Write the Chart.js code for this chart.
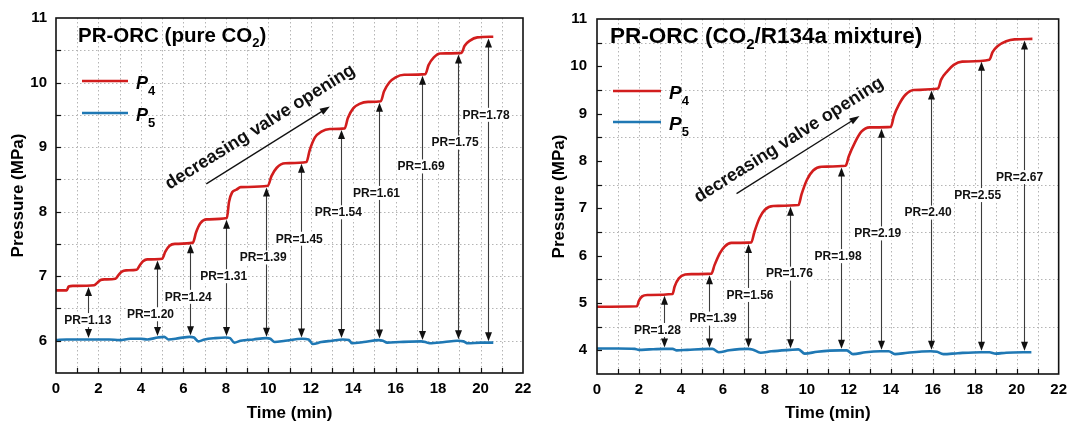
<!DOCTYPE html>
<html><head><meta charset="utf-8">
<script src="https://cdn.jsdelivr.net/npm/chart.js@4.4.1/dist/chart.umd.min.js"></script>
<style>
html,body{margin:0;padding:0;background:#fff}
#wrap{position:relative;width:1074px;height:429px}
#c1{position:absolute;left:0;top:0}
#c2{position:absolute;left:540px;top:0}
</style></head><body>
<div id="wrap"><canvas id="c1" width="540" height="429"></canvas><canvas id="c2" width="534" height="429"></canvas></div>
<script>
// ---- data (time in min, pressure in MPa) ----
const pureP4 = [[0,6.78],[0.5,6.78],[0.6,6.84],[0.8,6.85],[1.8,6.86],[1.95,6.9],[2.1,6.94],[2.3,6.95],[2.8,6.96],
  [2.95,7.02],[3.1,7.07],[3.3,7.09],[3.8,7.1],[3.95,7.17],[4.1,7.23],[4.3,7.26],[5.0,7.27],
  [5.15,7.38],[5.35,7.47],[5.6,7.5],[6.45,7.52],[6.6,7.68],[6.8,7.82],[7.1,7.88],[8.05,7.9],
  [8.15,8.15],[8.3,8.3],[8.5,8.34],[8.7,8.38],[9.98,8.4],[10.15,8.55],[10.4,8.68],[10.8,8.75],[11.8,8.77],
  [11.95,8.95],[12.2,9.15],[12.5,9.24],[12.9,9.28],[13.6,9.29],[13.75,9.45],[14.0,9.6],[14.3,9.67],[14.7,9.7],[15.3,9.71],
  [15.45,9.86],[15.7,10.0],[16.0,10.08],[16.4,10.12],[17.4,10.13],[17.55,10.27],[17.8,10.39],[18.1,10.45],[19.1,10.46],
  [19.25,10.57],[19.5,10.65],[19.85,10.7],[20.6,10.71]];
const pureP5 = [[0,6.01],[0.5,6.02],[1.5,6.02],[2.5,6.02],[3.0,6.01],[3.5,6.03],[4.0,6.03],[4.3,6.02],[4.8,6.05],[5.1,6.06],
  [5.3,6.02],[5.8,6.04],[6.3,6.06],[6.5,6.05],[6.7,5.99],[7.0,6.02],[7.5,6.04],[8.0,6.05],[8.2,6.04],[8.4,5.97],[8.7,6.0],
  [9.3,6.02],[9.9,6.04],[10.1,6.03],[10.3,5.98],[10.8,6.0],[11.6,6.03],[11.9,6.02],[12.1,5.95],[12.5,5.98],[13.0,6.0],
  [13.5,6.02],[13.8,6.01],[13.95,5.96],[14.5,5.98],[15.2,6.01],[15.4,6.0],[15.6,5.97],[16.2,5.98],[17.2,5.99],[17.4,5.98],
  [17.6,5.96],[18.3,5.98],[18.9,6.0],[19.2,5.99],[19.4,5.96],[20.0,5.97],[20.6,5.97]];
const pureArrowT = [1.49,4.77,6.3,8.0,9.87,11.52,13.43,15.2,17.23,18.93,20.36];
const pureRatio = ['1.13','1.20','1.24','1.31','1.39','1.45','1.54','1.61','1.69','1.75','1.78'];
const pureLabelT = [1.5,4.45,6.23,7.9,9.76,11.46,13.3,15.1,17.2,18.8,20.26];
const pureLabelP = [6.32,6.41,6.68,7.0,7.29,7.58,7.99,8.29,8.7,9.07,9.5];

const mixP4 = [[0,4.92],[1.9,4.93],[2.0,5.05],[2.15,5.14],[2.4,5.17],[3.6,5.19],[3.7,5.35],[3.9,5.52],[4.2,5.6],[4.5,5.61],[5.45,5.62],
  [5.6,5.8],[5.85,6.05],[6.1,6.2],[6.4,6.27],[7.35,6.28],[7.5,6.5],[7.75,6.8],[8.0,6.97],[8.4,7.05],[9.6,7.07],
  [9.75,7.3],[10.0,7.6],[10.3,7.8],[10.7,7.88],[11.85,7.9],[12.0,8.1],[12.3,8.4],[12.6,8.62],[13.0,8.71],[14.0,8.72],
  [14.15,8.95],[14.4,9.2],[14.7,9.4],[15.1,9.5],[16.25,9.53],[16.4,9.72],[16.7,9.9],[17.0,10.03],[17.4,10.1],[18.7,10.14],
  [18.85,10.3],[19.1,10.43],[19.5,10.53],[19.9,10.57],[20.75,10.58]];
const mixP5 = [[0,4.04],[1.0,4.04],[1.8,4.03],[2.0,4.01],[2.5,4.02],[3.2,4.03],[3.6,4.03],[3.8,4.0],[4.3,4.01],[5.3,4.03],[5.5,4.03],
  [5.8,3.96],[6.3,4.0],[7.2,4.03],[7.4,4.02],[7.8,3.95],[8.3,3.98],[9.2,4.01],[9.6,4.02],[9.9,3.93],[10.5,3.97],[11.6,4.0],
  [11.9,4.0],[12.2,3.92],[12.8,3.96],[13.5,3.98],[13.9,3.98],[14.2,3.92],[14.8,3.95],[15.9,3.98],[16.2,3.97],[16.5,3.92],
  [17.2,3.94],[18.3,3.96],[18.7,3.96],[19.0,3.93],[19.5,3.95],[20.7,3.96]];
const mixArrowT = [3.17,5.32,7.21,9.21,11.62,13.54,15.91,18.3,20.35];
const mixRatio = ['1.28','1.39','1.56','1.76','1.98','2.19','2.40','2.55','2.67'];
const mixLabelT = [2.88,5.53,7.29,9.17,11.49,13.38,15.78,18.14,20.14];
const mixLabelP = [4.43,4.67,5.17,5.62,5.99,6.47,6.91,7.28,7.66];

const FONT = '"Liberation Sans", Arial, sans-serif';
const RED = '#d21d1d', BLUE = '#1f78b4';

function interp(s,t){ for(let i=1;i<s.length;i++){ if(s[i][0]>=t){ const a=s[i-1],b=s[i]; return a[1]+(b[1]-a[1])*(t-a[0])/(b[0]-a[0]); } } return s[s.length-1][1]; }
function head(ctx,x,y,ang,len,hw){ ctx.save(); ctx.translate(x,y); ctx.rotate(ang); ctx.beginPath(); ctx.moveTo(0,0); ctx.lineTo(-len,-hw); ctx.lineTo(-len,hw); ctx.closePath(); ctx.fill(); ctx.restore(); }
function rich(ctx,parts,x,y){ parts.forEach(([txt,font,dy])=>{ ctx.font=font; ctx.fillText(txt,x,y+dy); x+=ctx.measureText(txt).width; }); }

const decor = {
  id:'decor',
  beforeDatasetsDraw(chart){
    // dotted grid
    const c = chart.options.plugins.decor; const ctx = chart.ctx;
    const xs = chart.scales.x, ys = chart.scales.y, a = chart.chartArea;
    ctx.save(); ctx.strokeStyle='#b5b5b5'; ctx.lineWidth=1; ctx.setLineDash([1.5,2.5]);
    for(let t=1;t<22;t++){ const x=Math.round(xs.getPixelForValue(t))+0.5; ctx.beginPath(); ctx.moveTo(x,a.top); ctx.lineTo(x,a.bottom); ctx.stroke(); }
    for(let v=ys.min+c.gridStep; v<ys.max; v+=c.gridStep){ const y=Math.round(ys.getPixelForValue(v))+0.5; ctx.beginPath(); ctx.moveTo(a.left,y); ctx.lineTo(a.right,y); ctx.stroke(); }
    ctx.restore();
  },
  afterDatasetsDraw(chart){
    const c = chart.options.plugins.decor; const ctx = chart.ctx;
    const xs = chart.scales.x, ys = chart.scales.y, a = chart.chartArea;
    ctx.save();
    // vertical PR arrows
    ctx.strokeStyle='#3c3c3c'; ctx.fillStyle='#111'; ctx.lineWidth=1.1;
    c.arrowT.forEach(t=>{
      const x = Math.round(xs.getPixelForValue(t))+0.5;
      const yTop = ys.getPixelForValue(interp(c.p4,t))+1.5, yBot = ys.getPixelForValue(interp(c.p5,t))-1.5;
      ctx.beginPath(); ctx.moveTo(x,yTop+6); ctx.lineTo(x,yBot-6); ctx.stroke();
      head(ctx,x,yTop,-Math.PI/2,9,3.5); head(ctx,x,yBot,Math.PI/2,9,3.5);
    });
    // PR labels with white box
    ctx.font='bold 12px '+FONT; ctx.textAlign='center'; ctx.textBaseline='middle';
    c.ratio.forEach((r,i)=>{
      const txt='PR='+r, x=xs.getPixelForValue(c.labT[i]), y=ys.getPixelForValue(c.labP[i]);
      const w=ctx.measureText(txt).width;
      ctx.fillStyle='#fff'; ctx.fillRect(x-w/2-1,y-7,w+2,14);
      ctx.fillStyle='#111'; ctx.fillText(txt,x,y+0.5);
    });
    // diagonal arrow + text
    const x0=xs.getPixelForValue(c.diag[0]), y0=ys.getPixelForValue(c.diag[1]);
    const x1=xs.getPixelForValue(c.diag[2]), y1=ys.getPixelForValue(c.diag[3]);
    const ang=Math.atan2(y1-y0,x1-x0);
    ctx.strokeStyle='#111'; ctx.fillStyle='#111'; ctx.lineWidth=1.3;
    ctx.beginPath(); ctx.moveTo(x0,y0); ctx.lineTo(x1-6*Math.cos(ang),y1-6*Math.sin(ang)); ctx.stroke();
    head(ctx,x1,y1,ang,10,3.5);
    ctx.save(); ctx.translate(xs.getPixelForValue(c.textAt[0]),ys.getPixelForValue(c.textAt[1])); ctx.rotate(ang);
    ctx.font='bold 18px '+FONT; ctx.fillText('decreasing valve opening',0,0); ctx.restore();
    // inward ticks
    ctx.strokeStyle='#111'; ctx.lineWidth=1.2;
    for(let t=1;t<22;t++){ const x=Math.round(xs.getPixelForValue(t))+0.5; ctx.beginPath(); ctx.moveTo(x,a.bottom); ctx.lineTo(x,a.bottom-5); ctx.stroke(); }
    for(let v=ys.min+0.5; v<ys.max; v+=0.5){ const y=Math.round(ys.getPixelForValue(v))+0.5; ctx.beginPath(); ctx.moveTo(a.left,y); ctx.lineTo(a.left+5,y); ctx.stroke(); }
    // frame
    ctx.lineWidth=1.6; ctx.strokeRect(a.left,a.top,a.right-a.left,a.bottom-a.top);
    // title
    ctx.textAlign='left'; ctx.textBaseline='alphabetic'; ctx.fillStyle='#000';
    const tf=c.titleSize;
    rich(ctx,[[c.title[0],'bold '+tf+'px '+FONT,0],['2','bold '+Math.round(tf*0.65)+'px '+FONT,tf*0.27],[c.title[1],'bold '+tf+'px '+FONT,0]],c.titlePos[0],c.titlePos[1]);
    // legend
    [[RED,'4',c.leg[2]],[BLUE,'5',c.leg[3]]].forEach(([col,sub,ly])=>{
      ctx.strokeStyle=col; ctx.lineWidth=2.6; ctx.beginPath(); ctx.moveTo(c.leg[0],ly); ctx.lineTo(c.leg[1],ly); ctx.stroke();
      ctx.fillStyle='#000';
      rich(ctx,[['P','italic bold '+c.legSize+'px '+FONT,0],[sub,'bold 13px '+FONT,6]],c.leg[1]+8,ly+8);
    });
    ctx.restore();
  }
};

function makeChart(id, p4, p5, yMin, axisW, axisH, padR, yTitlePad, tickPad, deco){
  return new Chart(document.getElementById(id), {
    type:'line',
    data:{ datasets:[
      {data:p4.map(([x,y])=>({x,y})), borderColor:RED, borderWidth:2.6, pointRadius:0, cubicInterpolationMode:'monotone'},
      {data:p5.map(([x,y])=>({x,y})), borderColor:BLUE, borderWidth:2.6, pointRadius:0, cubicInterpolationMode:'monotone'}
    ]},
    options:{
      responsive:false, animation:false, events:[],
      layout:{padding:{top:16,right:padR,left:0,bottom:0}},
      plugins:{legend:{display:false}, tooltip:{enabled:false}, decor:deco},
      scales:{
        x:{type:'linear', min:0, max:22,
          afterFit(s){ s.height=axisH; },
          ticks:{stepSize:1, autoSkip:false, maxRotation:0, padding:7, color:'#000', font:{family:FONT,size:15,weight:'bold'},
            callback:v=>v%2===0?v:''},
          grid:{display:false, drawTicks:false},
          border:{display:false},
          title:{display:true, text:'Time (min)', color:'#000', font:{family:FONT,size:17,weight:'bold'}, padding:{top:0,bottom:5}}
        },
        y:{min:yMin, max:11,
          afterFit(s){ s.width=axisW; },
          ticks:{stepSize:0.5, autoSkip:false, padding:tickPad, color:'#000', font:{family:FONT,size:15,weight:'bold'},
            callback:v=>Number.isInteger(v)?v:''},
          grid:{display:false, drawTicks:false},
          border:{display:false},
          title:{display:true, text:'Pressure (MPa)', color:'#000', font:{family:FONT,size:17,weight:'bold'}, padding:{top:yTitlePad,bottom:0}}
        }
      }
    },
    plugins:[decor]
  });
}

makeChart('c1', pureP4, pureP5, 5.5, 56, 56, 17, 8, 9, {
  p4:pureP4, p5:pureP5, arrowT:pureArrowT, ratio:pureRatio, labT:pureLabelT, labP:pureLabelP, gridStep:0.5,
  diag:[7.08,8.43,12.9,9.63], textAt:[9.62,9.31],
  title:['PR-ORC (pure CO',')'], titleSize:20.5, titlePos:[78,41.5],
  leg:[82,128,81,113], legSize:18
});
makeChart('c2', mixP4, mixP5, 3.5, 57, 55, 6, 9, 10, {
  p4:mixP4, p5:mixP5, arrowT:mixArrowT, ratio:mixRatio, labT:mixLabelT, labP:mixLabelP, gridStep:1,
  diag:[6.65,7.31,12.51,8.95], textAt:[9.14,8.44],
  title:['PR-ORC (CO','/R134a mixture)'], titleSize:22.5, titlePos:[70,43],
  leg:[73,121,91,122], legSize:19
});
</script>
</body></html>
